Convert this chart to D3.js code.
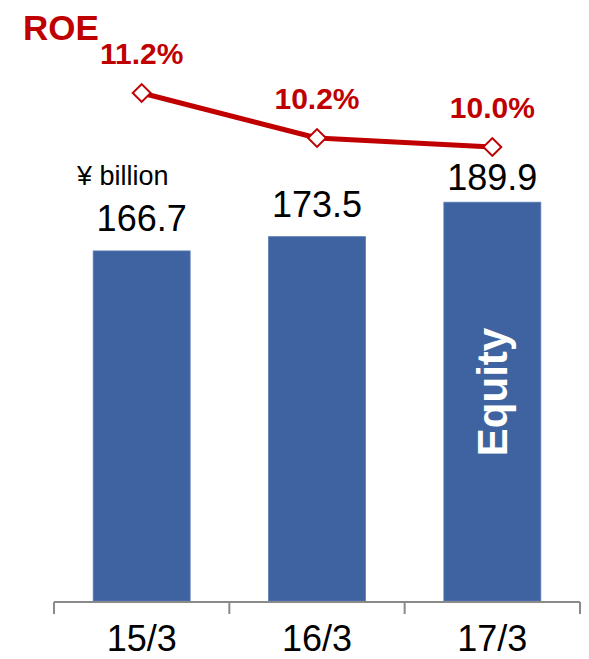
<!DOCTYPE html>
<html>
<head>
<meta charset="utf-8">
<script src="https://cdn.jsdelivr.net/npm/d3@7"></script>
<style>
  html, body { margin: 0; padding: 0; background: #fff; }
  svg { display: block; font-family: "Liberation Sans", Arial, sans-serif; }
</style>
</head>
<body>
<svg id="chart" width="589" height="659"></svg>
<script>
// Fiscal year-ends
const categories = ["15/3", "16/3", "17/3"];
// Equity, ¥ billion
const equity = [166.7, 173.5, 189.9];
// Return on equity, %
const roe = [11.2, 10.2, 10.0];

const W = 589, H = 659;
const red = "#C00000";
const blue = "#3E63A0";

const svg = d3.select("#chart");

// Category bands span the axis line; bars sit centred in each band
const x = d3.scaleBand().domain(categories).range([54, 580]).padding(0);
const barW = x.bandwidth() * 0.553;

// Equity scale (bars) and ROE scale (line) share the plot vertically
const yBar = d3.scaleLinear().domain([0, 200]).range([601, 181]);
const yRoe = d3.scaleLinear().domain([9.0, 12.0]).range([192, 57]);

const data = categories.map((c, i) => ({ cat: c, eq: equity[i], roe: roe[i] }));

// Bars
svg.append("g").selectAll("rect")
  .data(data)
  .join("rect")
  .attr("x", d => x(d.cat) + (x.bandwidth() - barW) / 2)
  .attr("y", d => yBar(d.eq))
  .attr("width", barW)
  .attr("height", d => yBar(0) - yBar(d.eq))
  .attr("fill", blue)
  .attr("stroke", "#5b7cb3")
  .attr("stroke-width", 0.8);

// Bar value labels, lifted clear of the ROE marker where needed
svg.append("g").selectAll("text")
  .data(data)
  .join("text")
  .attr("x", d => x(d.cat) + x.bandwidth() / 2)
  .attr("y", d => Math.max(yBar(d.eq) - 20, yRoe(d.roe) + 43))
  .attr("text-anchor", "middle")
  .attr("font-size", 36)
  .attr("fill", "#000")
  .text(d => d.eq.toFixed(1));

// "Equity" label inside the last bar
const last = data[data.length - 1];
svg.append("text")
  .attr("transform", `translate(${x(last.cat) + x.bandwidth() / 2 + 15},${392}) rotate(-90)`)
  .attr("text-anchor", "middle")
  .attr("font-size", 42)
  .attr("font-weight", "bold")
  .attr("fill", "#fff")
  .text("Equity");

// Unit note
svg.append("text")
  .attr("x", 77)
  .attr("y", 185)
  .attr("font-size", 27)
  .attr("fill", "#000")
  .text("¥ billion");

// Category axis: baseline with ticks at band edges
const axis = svg.append("g").attr("stroke", "#8a8a8a").attr("stroke-width", 2);
const r = x.range();
axis.append("line").attr("x1", r[0]).attr("x2", r[1]).attr("y1", 602).attr("y2", 602);
d3.range(categories.length + 1).forEach(i => {
  const tx = r[0] + i * x.step();
  axis.append("line").attr("x1", tx).attr("x2", tx).attr("y1", 602).attr("y2", 614);
});

svg.append("g").selectAll("text")
  .data(categories)
  .join("text")
  .attr("x", d => x(d) + x.bandwidth() / 2)
  .attr("y", 651)
  .attr("text-anchor", "middle")
  .attr("font-size", 36)
  .attr("fill", "#000")
  .text(d => d);

// ROE line
const line = d3.line()
  .x(d => x(d.cat) + x.bandwidth() / 2)
  .y(d => yRoe(d.roe));

svg.append("path")
  .datum(data)
  .attr("d", line)
  .attr("fill", "none")
  .attr("stroke", red)
  .attr("stroke-width", 5)
  .attr("stroke-linejoin", "round");

// Diamond markers
const diamond = d3.symbol().type(d3.symbolSquare).size(160);
svg.append("g").selectAll("path")
  .data(data)
  .join("path")
  .attr("d", diamond)
  .attr("transform", d => `translate(${x(d.cat) + x.bandwidth() / 2},${yRoe(d.roe)}) rotate(45)`)
  .attr("fill", "#fff")
  .attr("stroke", red)
  .attr("stroke-width", 2);

// ROE value labels
svg.append("g").selectAll("text")
  .data(data)
  .join("text")
  .attr("x", d => x(d.cat) + x.bandwidth() / 2)
  .attr("y", d => yRoe(d.roe) - 29)
  .attr("text-anchor", "middle")
  .attr("font-size", 30)
  .attr("font-weight", "bold")
  .attr("fill", red)
  .text(d => d.roe.toFixed(1) + "%");

// Series title
svg.append("text")
  .attr("x", 23)
  .attr("y", 40)
  .attr("font-size", 35)
  .attr("font-weight", "bold")
  .attr("fill", red)
  .text("ROE");
</script>
</body>
</html>
